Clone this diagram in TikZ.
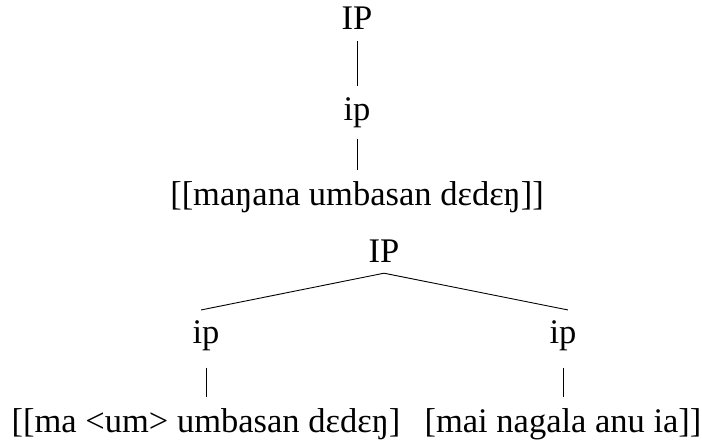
\documentclass[tikz,border=0pt]{standalone}
\usepackage{fontspec}
\setmainfont{Liberation Serif}
\usepackage{tikz}
\usetikzlibrary{positioning}

\begin{document}
\begin{tikzpicture}[x=1pt, y=-1pt, font=\fontsize{34.5}{40}\selectfont,
    lbl/.style={anchor=base, inner sep=11pt},
    branch/.style={black, line width=0.9pt}]
      \useasboundingbox (0,0) rectangle (702,447);
      % upper tree
      \node[lbl] (IPa) at (357,30) {IP};
      \node[lbl] (ipa) at (357,120) {ip};
      \node[lbl] (sa) at (357,205) {[[maŋana umbasan dɛdɛŋ]]};
      \draw[branch] (IPa.south) -- (ipa.north);
      \draw[branch] (ipa.south) -- (sa.north);
      % lower tree
      \node[lbl] (IPb) at (384,262) {IP};
      \node[lbl] (ipl) at (206,343) {ip};
      \node[lbl] (ipr) at (563,343) {ip};
      \node[lbl] (sl) at (206,432) {[[ma <um> umbasan dɛdɛŋ]};
      \node[lbl] (sr) at (563,432) {[mai nagala anu ia]]};
      \draw[branch, shorten >=-5pt] (IPb.south) -- (ipl.north);
      \draw[branch, shorten >=-5pt] (IPb.south) -- (ipr.north);
      \draw[branch, shorten <=6pt] (ipl.south) -- (sl.north);
      \draw[branch, shorten <=6pt] (ipr.south) -- (sr.north);
    \end{tikzpicture}
\end{document}
